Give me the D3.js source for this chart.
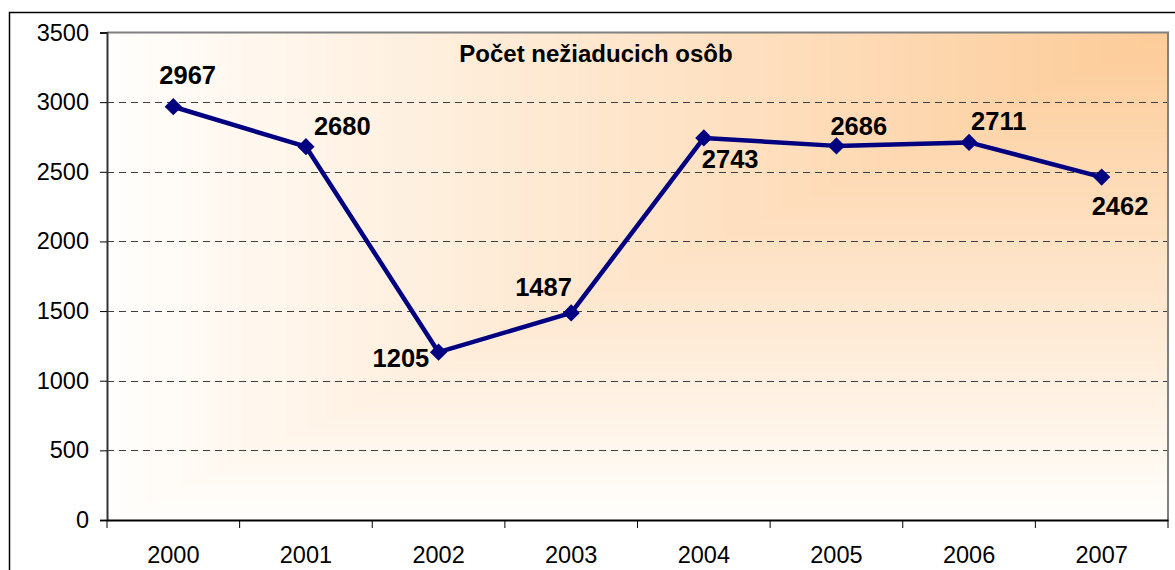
<!DOCTYPE html>
<html>
<head>
<meta charset="utf-8">
<script src="https://cdn.jsdelivr.net/npm/d3@7"></script>
<style>
  html, body { margin: 0; padding: 0; background: #fff; }
  svg { display: block; }
  text { font-family: "Liberation Sans", Arial, sans-serif; }
</style>
</head>
<body>
<svg id="chart" width="1175" height="570"></svg>
<script>
const years = ["2000", "2001", "2002", "2003", "2004", "2005", "2006", "2007"];
const values = [2967, 2680, 1205, 1487, 2743, 2686, 2711, 2462];
const yTicks = [0, 500, 1000, 1500, 2000, 2500, 3000, 3500];
const title = "Počet nežiaducich osôb";

// label placement relative to each point (dx, dy to text start/baseline)
const labelOffsets = [[-14, -23], [8, -12], [-66, 15], [-56, -17], [-2, 30], [-6, -11], [2, -12], [-10, 38]];

const plot = { left: 107, top: 32.5, right: 1168, bottom: 520 };

const svg = d3.select("#chart");

// outer frame
svg.append("rect")
  .attr("x", 9.5).attr("y", 12.5)
  .attr("width", 1250).attr("height", 700)
  .attr("fill", "#fff").attr("stroke", "#000").attr("stroke-width", 1.5);

const x = d3.scaleBand().domain(years).range([plot.left, plot.right]).padding(0);
const y = d3.scaleLinear().domain([0, 3500]).range([plot.bottom, plot.top]);

// background: rectangular "from corner" gradient (top-right orange -> white)
const pw = plot.right - plot.left, ph = plot.bottom - plot.top;
const col = d3.interpolateRgb("#FDCB97", "#FFFEFC");
const bg = svg.append("g");
const steps = 160;
for (let i = steps; i >= 1; i--) {
  const t = i / steps;
  bg.append("rect")
    .attr("x", plot.right - t * pw)
    .attr("y", plot.top)
    .attr("width", t * pw)
    .attr("height", t * ph)
    .attr("fill", col(t));
}

// gridlines
svg.append("g")
  .selectAll("line")
  .data(yTicks.filter(d => d > 0 && d < 3500))
  .join("line")
  .attr("x1", plot.left).attr("x2", plot.right)
  .attr("y1", d => Math.round(y(d)) + 0.5).attr("y2", d => Math.round(y(d)) + 0.5)
  .attr("stroke", "#404040").attr("stroke-width", 1)
  .attr("stroke-dasharray", "7,5");

// plot border (top & right gray)
svg.append("path")
  .attr("d", `M${plot.left},${plot.top} H${plot.right} V${plot.bottom}`)
  .attr("fill", "none").attr("stroke", "#808080").attr("stroke-width", 2);

// y axis
const yAxis = d3.axisLeft(y).tickValues(yTicks).tickSize(7).tickPadding(11).tickFormat(d3.format("d"));
const gy = svg.append("g").attr("transform", `translate(${plot.left},0)`).call(yAxis);
gy.select(".domain").attr("stroke", "#333").attr("stroke-width", 2);
gy.selectAll(".tick line").attr("stroke", "#000");
gy.selectAll(".tick text").attr("font-size", "23.5px").attr("fill", "#000")
  .attr("font-family", "Liberation Sans, Arial, sans-serif");

// x axis
const xAxis = d3.axisBottom(x).tickSize(0).tickPadding(26);
const gx = svg.append("g").attr("transform", `translate(0,${plot.bottom})`).call(xAxis);
gx.select(".domain").attr("stroke", "#000").attr("stroke-width", 2);
gx.selectAll(".tick text").attr("font-size", "23.5px").attr("fill", "#000")
  .attr("font-family", "Liberation Sans, Arial, sans-serif");
// boundary ticks between categories
const bounds = years.map(d => x(d)).concat([x(years[years.length - 1]) + x.bandwidth()]);
svg.append("g").selectAll("line").data(bounds).join("line")
  .attr("x1", d => d).attr("x2", d => d)
  .attr("y1", plot.bottom).attr("y2", plot.bottom + 8)
  .attr("stroke", "#000").attr("stroke-width", 1);

// line
const cx = (d, i) => x(years[i]) + x.bandwidth() / 2;
const line = d3.line().x((d, i) => cx(d, i)).y(d => y(d));
svg.append("path").datum(values)
  .attr("d", line)
  .attr("fill", "none").attr("stroke", "#000080").attr("stroke-width", 4.5)
  .attr("stroke-linejoin", "round");

// markers (diamonds)
svg.append("g").selectAll("path").data(values).join("path")
  .attr("d", d3.symbol(d3.symbolDiamond2, 190))
  .attr("transform", (d, i) => `translate(${cx(d, i)},${y(d)})`)
  .attr("fill", "#000080");

// data labels
svg.append("g").selectAll("text").data(values).join("text")
  .attr("x", (d, i) => cx(d, i) + labelOffsets[i][0])
  .attr("y", (d, i) => y(d) + labelOffsets[i][1])
  .attr("font-size", "25.5px").attr("font-weight", "bold").attr("fill", "#000")
  .text(d => d);

// title
svg.append("text")
  .attr("x", 596).attr("y", 62)
  .attr("text-anchor", "middle")
  .attr("font-size", "24px").attr("font-weight", "bold").attr("fill", "#000")
  .text(title);
</script>
</body>
</html>
